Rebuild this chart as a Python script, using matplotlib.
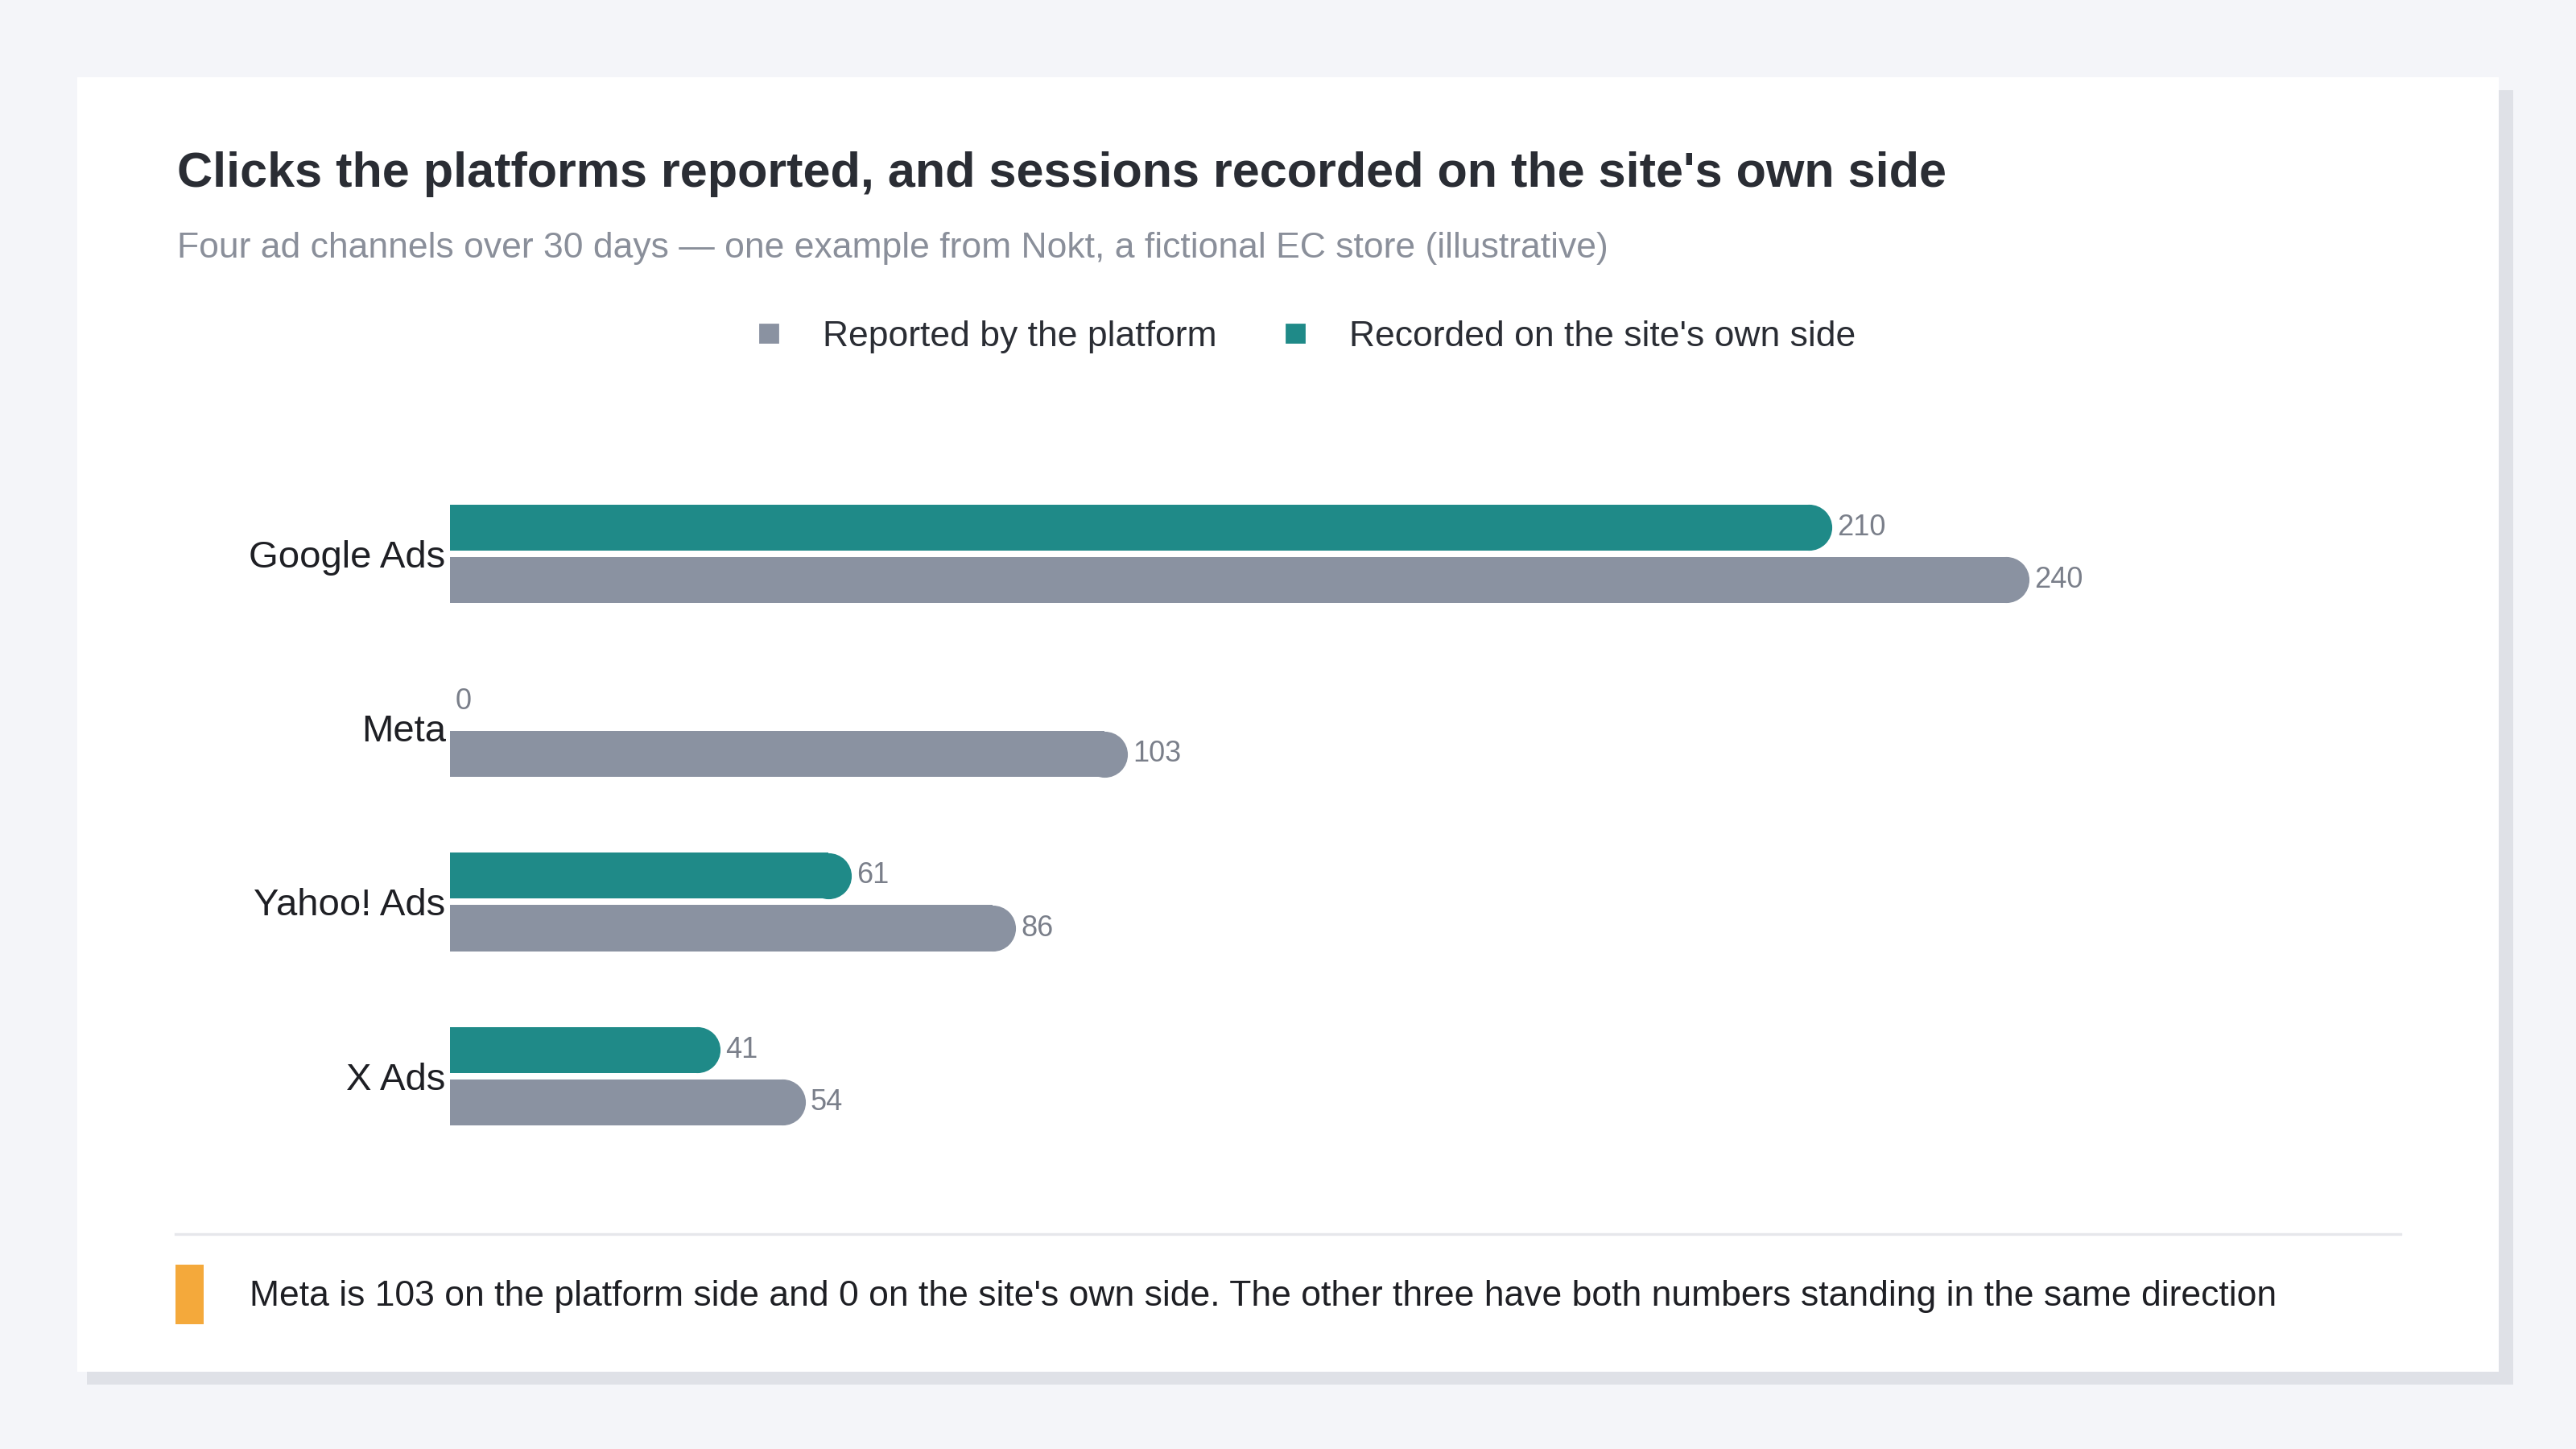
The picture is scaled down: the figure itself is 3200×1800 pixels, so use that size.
import numpy as np
import matplotlib.pyplot as plt
from matplotlib.patches import Rectangle
from matplotlib.lines import Line2D

W, H = 1568, 882  # reference layout units


def fx(x):
    return x / W


def fy(y):
    return 1 - y / H


channels = ['Google Ads', 'Meta', 'Yahoo! Ads', 'X Ads']
platform = [240, 103, 86, 54]
site = [210, 0, 61, 41]

TEAL = '#1f8a88'
GRAY = '#8a92a1'
LABEL = '#7a7f8a'

plt.rcParams['font.family'] = ['Liberation Sans', 'DejaVu Sans']
fig = plt.figure(figsize=(16, 9), dpi=200)
fig.patch.set_facecolor('#f4f5f9')

# card + shadow
fig.add_artist(Rectangle((fx(53), fy(843)), fx(1477), (788) / H, transform=fig.transFigure,
                         facecolor='#dfe1e7', edgecolor='none', zorder=0))
fig.add_artist(Rectangle((fx(47), fy(835)), fx(1474), (788) / H, transform=fig.transFigure,
                         facecolor='white', edgecolor='none', zorder=0))

fig.text(fx(108), fy(106), "Clicks the platforms reported, and sessions recorded on the site's own side",
         fontsize=22, fontweight='bold', color='#2a2d34', va='center')
fig.text(fx(108), fy(151), "Four ad channels over 30 days \u2014 one example from Nokt, a fictional EC store (illustrative)",
         fontsize=16, color='#8a8f9a', va='center')

# legend
handles = [Line2D([], [], marker='s', ls='none', color=GRAY, markersize=8),
           Line2D([], [], marker='s', ls='none', color=TEAL, markersize=8)]
fig.legend(handles, ['Reported by the platform', "Recorded on the site's own side"],
           loc='center', bbox_to_anchor=(fx(788), fy(205)), ncol=2, frameon=False,
           fontsize=16, handletextpad=0.5, columnspacing=1.2, labelcolor='#2a2d34')

# axes
x0, x1 = 274, 1460
ytop, ybot = 280, 710
ax = fig.add_axes([fx(x0), fy(ybot), fx(x1 - x0), (ybot - ytop) / H])
ax.set_facecolor('none')
scale = 961 / 240  # ref px per unit
ax.set_xlim(0, (x1 - x0) / scale)
ax.set_ylim(ybot, ytop)  # y axis in ref px for row placement
for s in ax.spines.values():
    s.set_visible(False)
ax.set_xticks([])

centers = np.array([337, 443, 549, 655])
bh = 28
off = 16
r = bh / 2 / scale
bh_pt = bh * (1800 / H) / 200 * 72


def rounded_bar(y, v, color):
    if v <= 0:
        return
    ax.barh(y, v - r, height=bh, color=color, left=0, zorder=2)
    ax.plot([v - r], [y], 'o', color=color, markersize=bh_pt, markeredgewidth=0, zorder=2)


for c, p, s in zip(centers, platform, site):
    rounded_bar(c - off, s, TEAL)
    rounded_bar(c + off, p, GRAY)
    ax.text(s + 0.8, c - off, str(s), fontsize=13, color=LABEL, va='center', ha='left')
    ax.text(p + 0.8, c + off, str(p), fontsize=13, color=LABEL, va='center', ha='left')

ax.set_yticks(centers)
ax.set_yticklabels(channels, fontsize=17, color='#1e1f24')
ax.tick_params(axis='y', length=0, pad=2)

# divider and footnote
fig.add_artist(Line2D([fx(107), fx(1461)], [fy(751), fy(751)], transform=fig.transFigure,
                      color='#e6e7eb', lw=1.2))
fig.add_artist(Rectangle((fx(107), fy(806)), fx(17), 36 / H, transform=fig.transFigure,
                         facecolor='#f4a93b', edgecolor='none'))
fig.text(fx(152), fy(789), "Meta is 103 on the platform side and 0 on the site's own side. "
         "The other three have both numbers standing in the same direction",
         fontsize=16, color='#1e1f24', va='center')

fig.savefig('out.png', dpi=200, facecolor=fig.get_facecolor())
